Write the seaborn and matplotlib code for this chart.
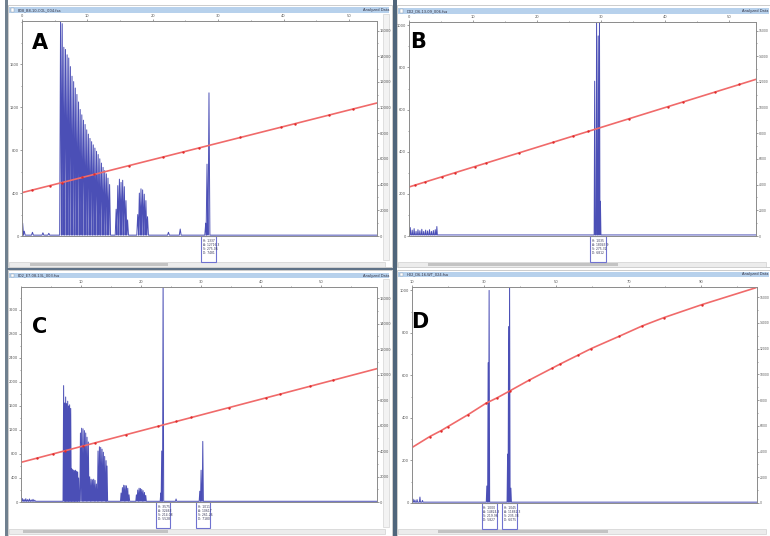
import seaborn as sns
import matplotlib.pyplot as plt
import pandas as pd
import matplotlib.transforms as mtransforms
from matplotlib.patches import Rectangle
from matplotlib.ticker import FixedLocator, MultipleLocator

W, H = 770, 536
BLUE = '#4b4fb6'
RED = '#f06a6a'
RED_DOT = '#e02a2a'

# ---- panel A ----
a_peak_x = [0.1, 0.35, 1.6, 3.2, 4.1,
            5.9, 6.15, 6.4, 6.65, 6.9, 7.15, 7.4, 7.65, 7.9, 8.15, 8.4, 8.65, 8.9,
            9.15, 9.4, 9.65, 9.9, 10.15, 10.4, 10.65, 10.9, 11.15, 11.4, 11.65,
            11.9, 12.15, 12.4, 12.65, 12.9, 13.15, 13.4,
            14.4, 14.65, 14.9, 15.15, 15.4, 15.65, 15.9, 16.15,
            17.7, 17.95, 18.2, 18.45, 18.7, 18.95, 19.2,
            22.4, 24.2,
            28.1, 28.3, 28.6]
a_peak_h = [120, 45, 35, 30, 25,
            2050, 1980, 1760, 1740, 1690, 1660, 1580, 1490, 1440, 1380, 1320, 1250, 1180,
            1130, 1080, 1040, 990, 950, 910, 880, 850, 820, 790, 760,
            720, 680, 640, 610, 580, 540, 480,
            250, 470, 530, 500, 520, 460, 330, 150,
            200, 400, 440, 430, 390, 330, 180,
            35, 65,
            120, 670, 1335]
a_curve_x = [0, 1.53, 4.23, 6.12, 9.18, 11.07, 16.33, 21.53, 24.64, 27.14,
             33.42, 39.54, 41.79, 46.94, 50.66, 54.3]
a_curve_y = [3377, 3574, 3921, 4165, 4558, 4802, 5479, 6148, 6548, 6870,
             7678, 8466, 8755, 9418, 9897, 10364]
a_xticks = [0, 10, 20, 30, 40, 50]
a_yticks = [0, 400, 800, 1200, 1600]
a_boxes = [(27.45, 29.74, ['H: 1337', 'A: 12716.3', 'S: 275.06', 'D: 7481', ''])]

# ---- panel B ----
b_peak_x = [0.2, 0.5, 0.8, 1.1, 1.4, 1.7, 2.0, 2.3, 2.6, 2.9, 3.2, 3.5, 3.8, 4.1, 4.35,
            29.0, 29.3, 29.55, 29.75, 29.9]
b_peak_h = [40, 28, 35, 22, 30, 25, 32, 22, 28, 24, 30, 22, 26, 30, 45,
            735, 1040, 950, 1040, 165]
b_curve_x = [0, 0.93, 2.49, 5.08, 7.15, 10.26, 12.07, 17.25, 22.44, 25.54, 27.98,
             34.35, 40.47, 42.75, 47.83, 51.61, 54.2]
b_curve_y = [3818, 3962, 4203, 4604, 4925, 5406, 5686, 6488, 7292, 7772, 8149,
             9135, 10083, 10436, 11222, 11807, 12208]
b_xticks = [0, 10, 20, 30, 40, 50]
b_yticks = [0, 200, 400, 600, 800, 1000]
b_boxes = [(28.3, 30.7, ['H: 1035', 'A: 18043.9', 'S: 275.32', 'D: 6812', ''])]

# ---- panel C ----
c_peak_x = [0.2, 0.5, 0.8, 1.1, 1.4, 1.7, 2.0, 2.3,
            7.1, 7.28, 7.44, 7.6, 7.78, 7.94, 8.1, 8.28, 8.44, 8.6, 8.78, 8.94,
            9.1, 9.28, 9.44, 9.6,
            9.9, 10.1, 10.33, 10.56, 10.78, 11.0, 11.22, 11.44, 11.67, 11.89,
            12.11, 12.33, 12.56,
            12.83, 13.06, 13.28, 13.5, 13.72, 13.94, 14.17, 14.33,
            16.67, 16.89, 17.11, 17.33, 17.56, 17.78, 18.0,
            19.22, 19.44, 19.67, 19.89, 20.11, 20.33, 20.56, 20.78,
            23.28, 23.44, 23.67, 25.83, 29.78, 30.0, 30.28]
c_peak_h = [60, 45, 55, 40, 50, 35, 45, 30,
            1940, 1650, 1750, 1640, 1680, 1600, 1620, 1560, 560, 540, 530, 520,
            530, 510, 500, 400,
            1150, 1230, 1220, 1190, 1150, 1080, 1000, 420, 380, 370,
            380, 360, 300,
            850, 920, 910, 880, 830, 760, 690, 600,
            150, 240, 280, 275, 270, 230, 120,
            120, 200, 230, 225, 210, 190, 160, 110,
            150, 850, 3700, 50, 180, 530, 1010]
c_curve_x = [0, 2.67, 5.28, 7.28, 10.33, 12.39, 17.56, 22.78, 25.89, 28.39,
             34.67, 40.83, 43.22, 48.22, 52.0, 59.3]
c_curve_y = [3111, 3442, 3765, 4013, 4391, 4646, 5287, 5933, 6319, 6629,
             7407, 8170, 8466, 9086, 9554, 10458]
c_xticks = [10, 20, 30, 40, 50]
c_yticks = [0, 400, 800, 1200, 1600, 2000, 2400, 2800, 3200]
c_boxes = [(22.5, 24.78, ['H: 3575', 'A: 32463', 'S: 214.08', 'D: 5528', '']),
           (29.22, 31.56, ['H: 1011', 'A: 10617', 'S: 261.26', 'D: 7180', ''])]

# ---- panel D ----
d_peak_x = [10.3, 10.8, 11.4, 12.2, 12.9, 30.73, 31.1, 31.37, 36.49, 36.77, 37.04, 37.4]
d_peak_h = [18, 14, 16, 28, 12, 80, 660, 1000, 230, 830, 1050, 70]
d_curve_x = [10, 14.93, 18.1, 19.95, 25.4, 30.47, 33.65, 37.03, 42.33, 48.7, 51.0,
             56.0, 59.7, 67.45, 73.8, 79.8, 90.3, 105.3]
d_curve_y = [4315, 5168, 5633, 5943, 6848, 7752, 8191, 8708, 9535, 10465, 10801,
             11499, 12016, 12972, 13773, 14419, 15426, 16744]
d_xticks = [10, 30, 50, 70, 90]
d_yticks = [0, 200, 400, 600, 800, 1000]
d_boxes = [(29.26, 33.48, ['H: 1000', 'A: 14824.3', 'S: 219.96', 'D: 5827', '']),
           (35.0, 39.2, ['H: 1045', 'A: 11862.3', 'S: 235.38', 'D: 6075', ''])]

right_ticks = [0, 2000, 4000, 6000, 8000, 10000, 12000, 14000, 16000]

sns.set_style('white')
plt.rcParams['font.family'] = ['DejaVu Sans']

fig = plt.figure(figsize=(W / 100, H / 100), dpi=100)

# window chrome drawn in pixel coordinates
bg = fig.add_axes([0, 0, 1, 1])
bg.set_xlim(0, W)
bg.set_ylim(H, 0)
bg.axis('off')


def px_rect(x, y, w, h, fc, ec='none', lw=0):
    bg.add_patch(Rectangle((x, y), w, h, facecolor=fc, edgecolor=ec, linewidth=lw))


# windows
for (x, y, w, h) in [(8, 5, 384, 262), (397, 5, 373, 262), (8, 270, 384, 266), (397, 270, 373, 266)]:
    px_rect(x, y, w, h, 'white', '#b8b8b8', 0.5)
# title bars
for (x, y, w, h) in [(9, 7, 380, 6), (398, 8, 371, 6), (9, 273, 380, 5), (398, 272, 371, 5)]:
    px_rect(x, y, w, h, '#b7d1ec')
    px_rect(x + 1.5, y + 1, 3.5, h - 2, 'white', '#8899aa', 0.3)
# vertical scrollbars on the right of the left windows
for (x, y, h) in [(383, 14, 246), (383, 279, 248)]:
    px_rect(x, y, 6, h, '#f3f3f3', '#cccccc', 0.4)
# bottom scrollbars
for (x, y, w, tx, tw) in [(9, 262, 376, 30, 138), (398, 262, 368, 428, 190),
                          (9, 529, 376, 23, 145), (398, 529, 368, 438, 170)]:
    px_rect(x, y, w, 5, '#ececec', '#c8c8c8', 0.4)
    px_rect(tx, y + 0.7, tw, 3.6, '#c3c3c3')
# separators
px_rect(5, 0, 2.5, H, '#70808f')
px_rect(392.5, 0, 4, H, '#4f657b')
px_rect(7, 267.5, 386, 2.5, '#5f7287')

file_names = ['B08_B8-10-COL_004.fsa', 'D02_D6-13-09_006.fsa',
              'E02_E7-08-13L_003.fsa', 'H02_D6-16-WT_024.fsa']
title_pos = [(18, 10, 390), (407, 11, 768), (18, 275.5, 390), (407, 274.5, 768)]
for name, (x, y, xr) in zip(file_names, title_pos):
    fig.text(x / W, 1 - y / H, name, fontsize=2.6, color='#334', va='center')
    fig.text(xr / W, 1 - y / H, 'Analyzed Data', fontsize=2.6, color='#334',
             va='center', ha='right')


def style_ticks(axis_obj, size):
    axis_obj.tick_params(which='both', labelsize=size, colors='#555555', width=0.4, pad=0.4)
    axis_obj.tick_params(which='major', length=1.6)
    axis_obj.tick_params(which='minor', length=0.9)
    for s in axis_obj.spines.values():
        s.set_color('#8c8c8c')
        s.set_linewidth(0.6)


def add_panel(rect, xlim, ylim, ylim2, xticks, yticks, ymin_step, px, ph, base, w,
              cx, cy, boxes, letter, lxy, rsize):
    l, t, r, b = rect
    ax = fig.add_axes([l / W, 1 - b / H, (r - l) / W, (b - t) / H])
    ax.set_facecolor('white')

    # electropherogram trace: each peak drawn as a narrow spike from the baseline
    xs, ys = [xlim[0]], [base]
    for x, h in zip(px, ph):
        xs += [x - w, x, x + w]
        ys += [base, h, base]
    xs.append(xlim[1])
    ys.append(base)
    trace = pd.DataFrame({'x': xs, 'y': ys})
    sns.lineplot(data=trace, x='x', y='y', sort=False, estimator=None,
                 color=BLUE, lw=0.7, ax=ax)
    ax.set_xlim(xlim)
    ax.set_ylim(ylim)
    ax.set_xlabel('')
    ax.set_ylabel('')

    ax.xaxis.tick_top()
    ax.xaxis.set_major_locator(FixedLocator(xticks))
    ax.xaxis.set_minor_locator(MultipleLocator(5 if xlim[1] < 80 else 10))
    ax.yaxis.set_major_locator(FixedLocator(yticks))
    ax.yaxis.set_minor_locator(MultipleLocator(ymin_step))
    style_ticks(ax, 2.6)

    # sizing curve on the right hand scale
    ax2 = ax.twinx()
    curve = pd.DataFrame({'x': cx, 'y': cy})
    sns.lineplot(data=curve, x='x', y='y', sort=False, estimator=None,
                 color=RED, lw=1.2, ax=ax2)
    sns.scatterplot(data=curve.iloc[1:-1], x='x', y='y', color=RED_DOT, s=3,
                    linewidth=0, ax=ax2, zorder=5)
    ax2.set_ylim(ylim2)
    ax2.set_xlim(xlim)
    ax2.set_ylabel('')
    ax2.yaxis.set_major_locator(FixedLocator(right_ticks))
    ax2.yaxis.set_minor_locator(MultipleLocator(1000))
    style_ticks(ax2, rsize)

    # peak label boxes hanging under the plot
    trans = mtransforms.blended_transform_factory(ax.transData, ax.transAxes)
    for x0, x1, lines in boxes:
        ax.add_patch(Rectangle((x0, -0.122), x1 - x0, 0.12, transform=trans,
                               facecolor='white', edgecolor='#6f72d0', lw=0.8,
                               clip_on=False))
        ax.text(x0 + (x1 - x0) * 0.12, -0.012, '\n'.join(lines), transform=trans,
                fontsize=2.2, color='#333355', va='top', linespacing=1.1)

    fig.text(lxy[0] / W, 1 - lxy[1] / H, letter, fontsize=15, fontweight='bold',
             ha='center', va='center', color='black', zorder=10)


add_panel((22, 21, 377, 236), (0, 54.3), (0, 2005), (0, 16750), a_xticks, a_yticks, 200,
          a_peak_x, a_peak_h, 8, 0.14, a_curve_x, a_curve_y, a_boxes, 'A', (40, 43), 2.6)
add_panel((409, 22, 756, 236), (0, 54.2), (0, 1016), (0, 16675), b_xticks, b_yticks, 100,
          b_peak_x, b_peak_h, 5, 0.08, b_curve_x, b_curve_y, b_boxes, 'B', (418, 42), 2.2)
add_panel((21, 287, 377, 502), (0, 59.3), (0, 3583), (0, 16863), c_xticks, c_yticks, 200,
          c_peak_x, c_peak_h, 12, 0.1, c_curve_x, c_curve_y, c_boxes, 'C', (40, 327), 2.6)
add_panel((412, 287, 757, 503), (10, 105.6), (0, 1016), (0, 16800), d_xticks, d_yticks, 100,
          d_peak_x, d_peak_h, 4, 0.15, d_curve_x, d_curve_y, d_boxes, 'D', (420, 322), 2.2)

fig.savefig('out.png', dpi=100)
